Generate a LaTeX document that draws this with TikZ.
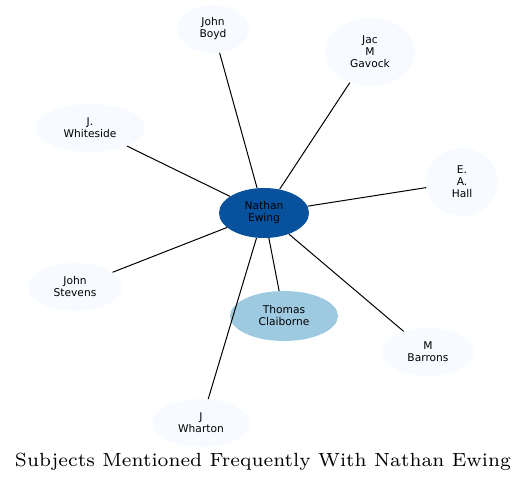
\documentclass[tikz,border=0pt]{standalone}
\usepackage{fontspec}
\newfontfamily\labelfont{DejaVu Sans}
\newfontfamily\titlefont{lmroman7-regular}[Extension=.otf]
\usetikzlibrary{shapes.geometric}
\definecolor{hubblue}{HTML}{08519C}
\definecolor{midblue}{HTML}{9ECAE1}
\definecolor{paleblue}{HTML}{F7FBFF}
\tikzset{
  person/.style={ellipse, fill=paleblue, inner sep=0pt, align=center,
    font=\labelfont\fontsize{8}{9}\selectfont},
  hub/.style={person, fill=hubblue},
  close/.style={person, fill=midblue},
  link/.style={draw=black, line width=0.75pt}
}
\begin{document}
\begin{tikzpicture}[x=0.75pt, y=-0.75pt]
\useasboundingbox (0,0) rectangle (527,484);
\node[hub, minimum width=67.5pt, minimum height=37.5pt] (ewing) at (264,213) {Nathan\\Ewing};
\node[close, minimum width=81pt, minimum height=37.5pt] (claiborne) at (284,316) {Thomas\\Claiborne};
\node[person, minimum width=54pt, minimum height=36pt] (boyd) at (213,29) {John\\Boyd};
\node[person, minimum width=67.5pt, minimum height=51pt] (gavock) at (370,52) {Jac\\M\\Gavock};
\node[person, minimum width=54pt, minimum height=51pt] (hall) at (462,182) {E.\\A.\\Hall};
\node[person, minimum width=82.5pt, minimum height=36pt] (whiteside) at (90,128) {J.\\Whiteside};
\node[person, minimum width=70.5pt, minimum height=36pt] (stevens) at (75,287) {John\\Stevens};
\node[person, minimum width=69pt, minimum height=36pt] (barrons) at (428,352) {M\\Barrons};
\node[person, minimum width=73.5pt, minimum height=36pt] (wharton) at (201,423) {J\\Wharton};
\node[font=\titlefont\fontsize{14.3}{17}\selectfont] (title) at (263,462) {Subjects Mentioned Frequently With Nathan Ewing};

\draw[link] (ewing) -- (boyd);
\draw[link] (ewing) -- (gavock);
\draw[link] (ewing) -- (hall);
\draw[link] (ewing) -- (whiteside);
\draw[link] (ewing) -- (stevens);
\draw[link] (ewing) -- (claiborne);
\draw[link] (ewing) -- (barrons);
\draw[link] (ewing) -- (wharton);
\end{tikzpicture}
\end{document}
